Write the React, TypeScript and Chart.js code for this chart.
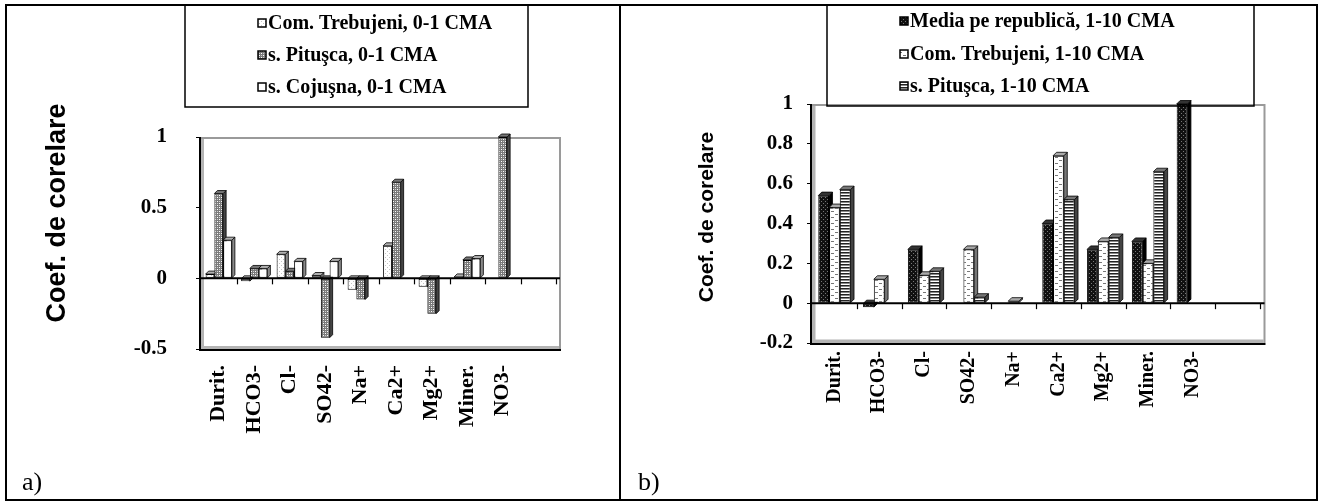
import React, { useEffect, useRef } from 'react';
import { Chart, registerables } from 'chart.js';

Chart.register(...registerables);

const SERIF = "'Liberation Serif', 'Times New Roman', serif";
const SANS = "'Liberation Sans', Arial, sans-serif";

const categories = ['Durit.', 'HCO3-', 'Cl-', 'SO42-', 'Na+', 'Ca2+', 'Mg2+', 'Miner.', 'NO3-', ''];

// panel a)
const leftSeriesNames = ['Com. Trebujeni, 0-1 CMA', 's. Pituşca, 0-1 CMA', 's. Cojuşna, 0-1 CMA'];
const leftTrebujeni = [0.03, -0.02, 0.17, 0.02, -0.08, 0.23, -0.06, 0.01, 0, 0];
const leftPitusca = [0.6, 0.07, 0.05, -0.42, -0.15, 0.68, -0.25, 0.13, 1.0, 0];
const leftCojusna = [0.27, 0.07, 0.12, 0.12, 0, 0, 0, 0.14, 0, 0];
const leftTicks = [-0.5, 0, 0.5, 1];

// panel b)
const rightSeriesNames = ['Media pe republică, 1-10 CMA', 'Com. Trebujeni, 1-10 CMA', 's. Pituşca, 1-10 CMA'];
const rightMedia = [0.54, -0.02, 0.27, 0, 0, 0.4, 0.27, 0.31, 1.0, 0];
const rightTrebujeni = [0.48, 0.12, 0.14, 0.27, 0.01, 0.74, 0.31, 0.2, 0, 0];
const rightPitusca = [0.57, 0, 0.16, 0.03, 0, 0.52, 0.33, 0.66, 0, 0];
const rightTicks = [-0.2, 0, 0.2, 0.4, 0.6, 0.8, 1];

const axisTitle = 'Coef. de corelare';

function makePattern(w: number, h: number, draw: (g: CanvasRenderingContext2D) => void) {
  const c = document.createElement('canvas');
  c.width = w;
  c.height = h;
  const g = c.getContext('2d') as CanvasRenderingContext2D;
  draw(g);
  return g.createPattern(c, 'repeat') as CanvasPattern;
}

const bar3dPlugin = {
  id: 'bar3d',
  beforeDatasetsDraw(chart: any, _args: any, o: any) {
    const { ctx, chartArea: a } = chart;
    const xs = chart.scales.x;
    const ys = chart.scales.y;
    const d = o.depth;
    const zeroY = ys.getPixelForValue(0);
    const right = a.right + d;
    ctx.save();
    // walls
    ctx.fillStyle = '#b4b4b4';
    ctx.fillRect(a.left, a.top, d, a.bottom - a.top);
    ctx.fillRect(a.left, a.bottom - d, right - a.left, d);
    ctx.strokeStyle = '#9a9a9a';
    ctx.lineWidth = 2;
    ctx.beginPath();
    ctx.moveTo(a.left, a.top + 1);
    ctx.lineTo(right + 1, a.top + 1);
    ctx.lineTo(right + 1, a.bottom);
    ctx.stroke();
    ctx.strokeStyle = '#000';
    ctx.lineWidth = 2;
    ctx.beginPath();
    ctx.moveTo(a.left - 1, a.top);
    ctx.lineTo(a.left - 1, a.bottom + 1);
    ctx.lineTo(right + 2, a.bottom + 1);
    ctx.stroke();

    // bars, category by category, series left to right
    const metas = chart.getSortedVisibleDatasetMetas().slice().sort((p: any, q: any) => p.index - q.index);
    const n = chart.data.labels.length;
    for (let i = 0; i < n; i++) {
      metas.forEach((meta: any) => {
        const el = meta.data[i];
        if (!el) return;
        const ds = chart.data.datasets[meta.index];
        const v = ds.data[i];
        if (!v) return;
        el.draw(ctx, a);
        const { x, y, base, width } = el;
        const l = x - width / 2;
        const r = x + width / 2;
        const t = Math.min(y, base);
        const b = Math.max(y, base);
        ctx.lineWidth = 0.8;
        ctx.strokeStyle = '#000';
        ctx.fillStyle = ds.sideColor;
        ctx.beginPath();
        ctx.moveTo(r, t);
        ctx.lineTo(r + d, t - d);
        ctx.lineTo(r + d, b - d);
        ctx.lineTo(r, b);
        ctx.closePath();
        ctx.fill();
        ctx.stroke();
        ctx.fillStyle = ds.topColor;
        ctx.beginPath();
        ctx.moveTo(l, t);
        ctx.lineTo(l + d, t - d);
        ctx.lineTo(r + d, t - d);
        ctx.lineTo(r, t);
        ctx.closePath();
        ctx.fill();
        ctx.stroke();
      });
    }
    // zero line
    ctx.strokeStyle = '#000';
    ctx.lineWidth = 2;
    ctx.beginPath();
    ctx.moveTo(a.left, zeroY);
    ctx.lineTo(right + 1, zeroY);
    ctx.stroke();
    // category tick marks at zero line
    const cw = xs.getPixelForValue(1) - xs.getPixelForValue(0);
    ctx.lineWidth = 1.2;
    for (let i = 1; i <= n; i++) {
      const bx = Math.round(xs.getPixelForValue(i - 1) + cw / 2) + 0.5;
      ctx.beginPath();
      ctx.moveTo(bx, zeroY);
      ctx.lineTo(bx, zeroY + 6);
      ctx.stroke();
    }
    ctx.restore();
    return false;
  },
  afterDraw(chart: any, _args: any, o: any) {
    const { ctx } = chart;
    ctx.save();
    ctx.fillStyle = '#000';
    // axis title
    ctx.save();
    ctx.translate(o.titleX, o.titleY);
    ctx.rotate(-Math.PI / 2);
    ctx.font = `bold ${o.titleSize}px ${SANS}`;
    ctx.textAlign = 'center';
    ctx.textBaseline = 'middle';
    ctx.fillText(axisTitle, 0, 0);
    ctx.restore();
    // legend box
    ctx.strokeStyle = '#000';
    ctx.lineWidth = 1.5;
    ctx.beginPath();
    ctx.moveTo(o.legX1, -2);
    ctx.lineTo(o.legX1, o.legY2);
    ctx.lineTo(o.legX2, o.legY2);
    ctx.lineTo(o.legX2, -2);
    ctx.stroke();
    ctx.font = `bold ${o.legendSize}px ${SERIF}`;
    ctx.textAlign = 'left';
    ctx.textBaseline = 'middle';
    chart.data.datasets.forEach((ds: any, i: number) => {
      const cy = o.legYs[i];
      ctx.fillStyle = ds.backgroundColor;
      ctx.fillRect(o.markerX, cy - 4, 8, 8);
      ctx.lineWidth = 1.5;
      ctx.strokeStyle = '#000';
      ctx.strokeRect(o.markerX, cy - 4, 8, 8);
      ctx.fillStyle = '#000';
      ctx.fillText(ds.label, o.markerX + 10, cy + 1);
    });
    // panel label
    ctx.font = `${o.panelSize}px ${SERIF}`;
    ctx.textBaseline = 'alphabetic';
    ctx.fillText(o.panelLabel, o.panelX, o.panelY);
    ctx.restore();
  },
};

function buildConfig(
  datasets: any[],
  ticksArr: number[],
  min: number,
  max: number,
  geo: any,
) {
  return {
    type: 'bar',
    data: { labels: categories, datasets },
    options: {
      responsive: false,
      animation: false,
      events: [],
      layout: { padding: { left: 0, top: geo.top, right: geo.right, bottom: 0 } },
      datasets: { bar: { categoryPercentage: geo.catPct, barPercentage: 1 } },
      plugins: {
        legend: { display: false },
        tooltip: { enabled: false },
        bar3d: geo.plugin,
      },
      scales: {
        x: {
          type: 'category',
          offset: true,
          grid: { display: false, drawTicks: false },
          border: { display: false },
          ticks: {
            autoSkip: false,
            minRotation: 90,
            maxRotation: 90,
            padding: geo.xPad,
            color: '#000',
            font: { family: SERIF, size: geo.xFont, weight: 'bold' },
          },
          afterFit: (s: any) => {
            s.height = geo.xHeight;
          },
        },
        y: {
          min,
          max,
          grid: { drawOnChartArea: false, tickLength: 5, color: '#000', lineWidth: 1 },
          border: { display: false },
          ticks: {
            padding: geo.yPad,
            color: '#000',
            font: { family: SERIF, size: geo.yFont, weight: 'bold' },
            callback: (v: any) => String(v),
          },
          afterBuildTicks: (s: any) => {
            s.ticks = ticksArr.map((v) => ({ value: v }));
          },
          afterFit: (s: any) => {
            s.width = geo.yWidth;
          },
        },
      },
    },
    plugins: [bar3dPlugin],
  } as any;
}

export default function App() {
  const leftRef = useRef<HTMLCanvasElement>(null);
  const rightRef = useRef<HTMLCanvasElement>(null);

  useEffect(() => {
    const pLightDots = makePattern(4, 4, (g) => {
      g.fillStyle = '#fff';
      g.fillRect(0, 0, 4, 4);
      g.fillStyle = '#c4c4c4';
      g.fillRect(1, 1, 1, 1);
      g.fillRect(3, 3, 1, 1);
    });
    const pDotted = makePattern(4, 4, (g) => {
      g.fillStyle = '#7a7a7a';
      g.fillRect(0, 0, 4, 4);
      g.fillStyle = '#fff';
      g.fillRect(1, 1, 1, 1);
      g.fillRect(3, 3, 1, 1);
      g.fillStyle = '#ccc';
      g.fillRect(1, 3, 1, 1);
      g.fillRect(3, 1, 1, 1);
    });
    const pBlackDots = makePattern(4, 4, (g) => {
      g.fillStyle = '#111';
      g.fillRect(0, 0, 4, 4);
      g.fillStyle = '#777';
      g.fillRect(1, 1, 1, 1);
      g.fillRect(3, 3, 1, 1);
    });
    const pDashes = makePattern(8, 6, (g) => {
      g.fillStyle = '#fff';
      g.fillRect(0, 0, 8, 6);
      g.fillStyle = '#777';
      g.fillRect(1, 1, 3, 1);
      g.fillRect(5, 4, 3, 1);
    });
    const pStripes = makePattern(2, 3, (g) => {
      g.fillStyle = '#222';
      g.fillRect(0, 0, 2, 1);
      g.fillStyle = '#888';
      g.fillRect(0, 1, 2, 1);
      g.fillStyle = '#fff';
      g.fillRect(0, 2, 2, 1);
    });

    const common = { borderColor: '#000', borderWidth: 1, borderSkipped: false };

    const leftDatasets = [
      { label: leftSeriesNames[0], data: leftTrebujeni, backgroundColor: pLightDots, sideColor: '#8a8a8a', topColor: '#b0b0b0', ...common },
      { label: leftSeriesNames[1], data: leftPitusca, backgroundColor: pDotted, sideColor: '#444', topColor: '#777', ...common },
      { label: leftSeriesNames[2], data: leftCojusna, backgroundColor: '#fff', sideColor: '#8a8a8a', topColor: '#b0b0b0', ...common },
    ];
    const rightDatasets = [
      { label: rightSeriesNames[0], data: rightMedia, backgroundColor: pBlackDots, sideColor: '#000', topColor: '#333', ...common },
      { label: rightSeriesNames[1], data: rightTrebujeni, backgroundColor: pDashes, sideColor: '#777', topColor: '#aaa', ...common },
      { label: rightSeriesNames[2], data: rightPitusca, backgroundColor: pStripes, sideColor: '#444', topColor: '#777', ...common },
    ];

    const left = new Chart(
      leftRef.current as HTMLCanvasElement,
      buildConfig(leftDatasets, leftTicks, -0.5, 1, {
        top: 131,
        right: 62,
        catPct: 0.74,
        xPad: 16,
        xFont: 22,
        xHeight: 150,
        yPad: 29,
        yFont: 21,
        yWidth: 195,
        plugin: {
          depth: 3,
          titleX: 52,
          titleY: 207,
          titleSize: 27,
          legX1: 179,
          legX2: 522,
          legY2: 101,
          legYs: [17, 49, 81],
          markerX: 252,
          legendSize: 20,
          panelLabel: 'a)',
          panelX: 16,
          panelY: 484,
          panelSize: 26,
        },
      }),
    );
    const right = new Chart(
      rightRef.current as HTMLCanvasElement,
      buildConfig(rightDatasets, rightTicks, -0.2, 1, {
        top: 98,
        right: 56,
        catPct: 0.72,
        xPad: 8,
        xFont: 20,
        xHeight: 156,
        yPad: 14,
        yFont: 21,
        yWidth: 190,
        plugin: {
          depth: 3.5,
          titleX: 85,
          titleY: 211,
          titleSize: 21,
          legX1: 205,
          legX2: 632,
          legY2: 100,
          legYs: [15, 48, 80],
          markerX: 278,
          legendSize: 20,
          panelLabel: 'b)',
          panelX: 16,
          panelY: 484,
          panelSize: 26,
        },
      }),
    );
    return () => {
      left.destroy();
      right.destroy();
    };
  }, []);

  return (
    <div style={{ position: 'absolute', left: 0, top: 0, width: 1320, height: 501, overflow: 'hidden', background: '#fff' }}>
      <div
        style={{
          position: 'absolute',
          left: 5,
          top: 4,
          width: 1313,
          height: 497,
          border: '2px solid #000',
          boxSizing: 'border-box',
        }}
      />
      <div style={{ position: 'absolute', left: 619, top: 4, width: 2, height: 497, background: '#000' }} />
      <canvas ref={leftRef} width={612} height={493} style={{ position: 'absolute', left: 6, top: 6 }} />
      <canvas ref={rightRef} width={694} height={493} style={{ position: 'absolute', left: 622, top: 6 }} />
    </div>
  );
}
